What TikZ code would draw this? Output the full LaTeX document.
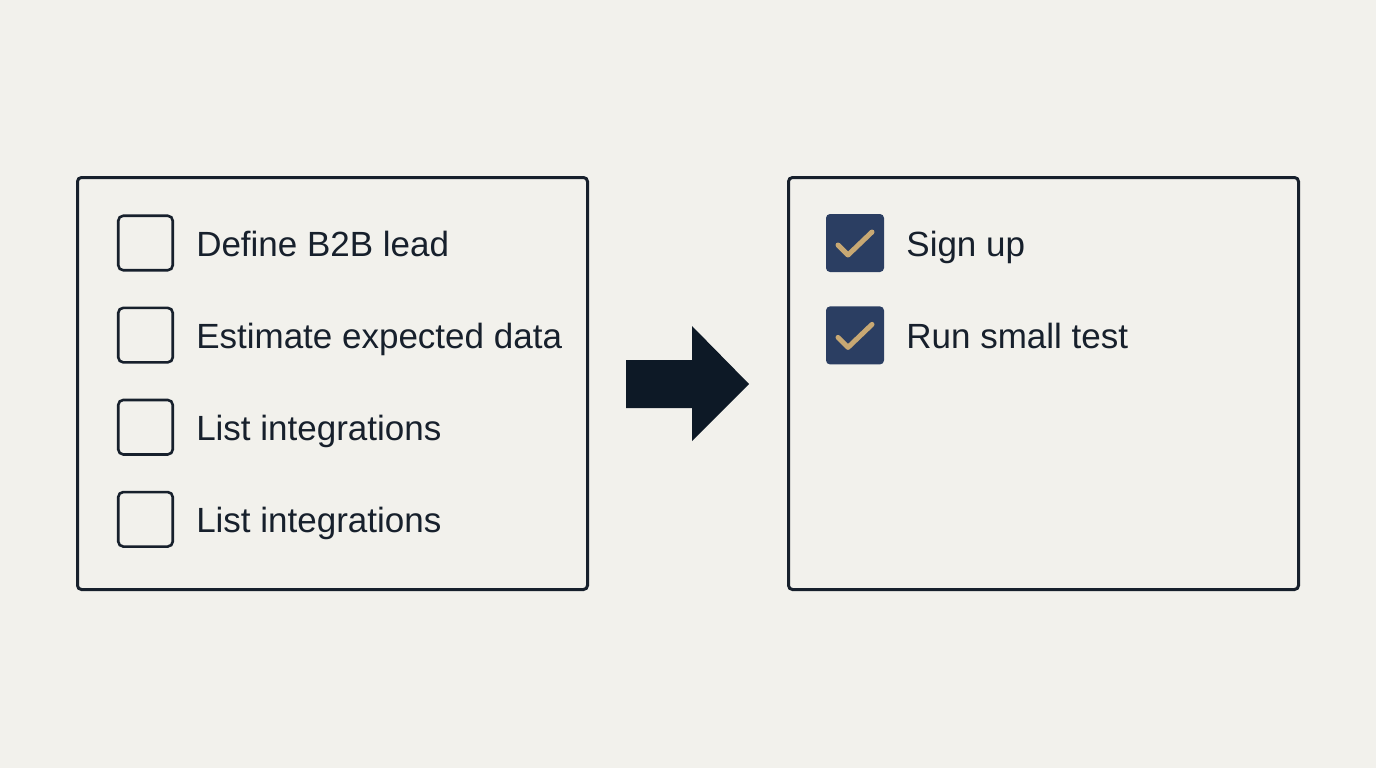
\documentclass[tikz,border=0pt]{standalone}
\usepackage{fontspec}
\setmainfont{Liberation Sans}
\usetikzlibrary{positioning}
\definecolor{pagebg}{HTML}{F2F1EC}
\definecolor{ink}{HTML}{17202C}
\definecolor{checknavy}{HTML}{2B3E62}
\definecolor{checktan}{HTML}{C8A873}
\definecolor{arrowink}{HTML}{0D1926}
\tikzset{
  panel/.style={draw=ink,line width=3pt,rounded corners=4pt,minimum width=510pt,minimum height=412pt,inner sep=0pt},
  openbox/.style={draw=ink,line width=2.6pt,rounded corners=5pt,minimum size=54.5pt,inner sep=0pt},
  donebox/.style={fill=checknavy,rounded corners=4pt,minimum size=58pt,inner sep=0pt},
  tick/.style={draw=checktan,line width=5pt,line cap=round,line join=round},
  itemtext/.style={inner sep=0pt,anchor=west,text=ink,font=\fontsize{35}{41}\selectfont,text height=31pt,text depth=4pt}
}
\begin{document}
\begin{tikzpicture}[x=1pt,y=-1pt,node distance=35pt and 22pt]
  \fill[pagebg] (0,0) rectangle (1376,768);

  \node[panel] (todo) at (332.5,383.5) {};
  \node[panel] (done) at (1043.5,383.5) {};

  \node[openbox] (open1) at (145.5,243) {};
  \node[openbox,below=of open1] (open2) {};
  \node[openbox,below=of open2] (open3) {};
  \node[openbox,below=of open3] (open4) {};
  \node[itemtext,right=of open1] (task1) {Define B2B lead};
  \node[itemtext,right=of open2] (task2) {Estimate expected data};
  \node[itemtext,right=of open3] (task3) {List integrations};
  \node[itemtext,right=of open4] (task4) {List integrations};

  \node[donebox] (done1) at (855,243) {};
  \node[donebox,below=34pt of done1] (done2) {};
  \node[itemtext,right=of done1] (step1) {Sign up};
  \node[itemtext,right=of done2] (step2) {Run small test};
  \foreach \b in {done1,done2}
    \draw[tick] ([shift={(-17,2)}]\b.center) -- ([shift={(-7,12)}]\b.center) -- ([shift={(17,-11)}]\b.center);

  % block arrow between the panels
  \coordinate (mid) at (626,384);
  \fill[arrowink] (mid) ++(0,-24) -- ++(66,0) -- ++(0,-34) -- ++(57,58) -- ++(-57,57) -- ++(0,-33) -- ++(-66,0) -- cycle;
\end{tikzpicture}
\end{document}
